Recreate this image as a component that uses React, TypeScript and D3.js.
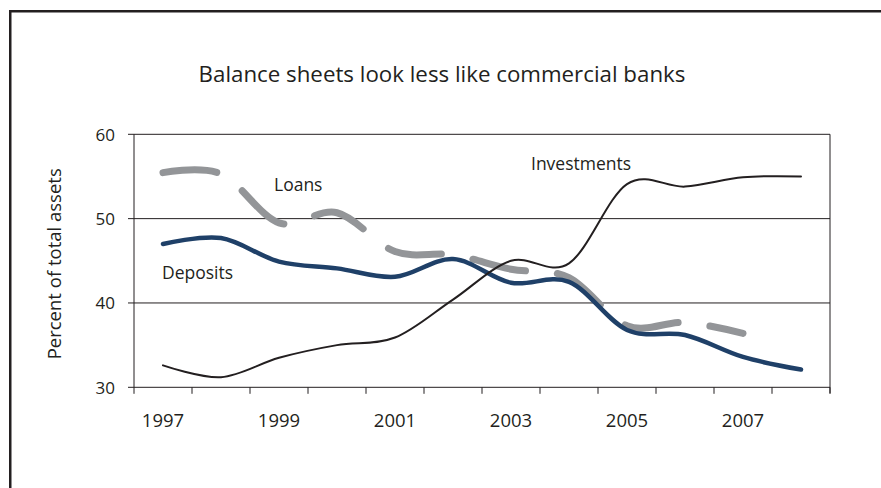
import React from "react";
import * as d3 from "d3";

const years = [1997, 1998, 1999, 2000, 2001, 2002, 2003, 2004, 2005, 2006, 2007, 2008];
const tickLabelYears = [1997, 1999, 2001, 2003, 2005, 2007];
const yTicks = [30, 40, 50, 60];
const investments = [32.6, 31.2, 33.5, 35.0, 35.9, 40.4, 45.0, 44.7, 54.1, 53.8, 54.9, 55.0];
const deposits = [47.0, 47.7, 44.9, 44.1, 43.1, 45.2, 42.4, 42.5, 36.8, 36.2, 33.6, 32.1];
const loans = [55.45, 55.3, 49.5, 50.7, 46.1, 45.7, 44.0, 43.0, 37.3, 37.7, 36.4];

const W = 881;
const H = 488;
const left = 134;
const right = 830;
const top = 134.3;
const bottom = 387.3;
const ink = "#231f20";
const font = "'Open Sans', sans-serif";

export default function App() {
  const x = d3.scaleBand<number>().domain(years).range([left, right]).padding(0);
  const y = d3.scaleLinear().domain([30, 60]).range([bottom, top]);
  const cx = (yr: number) => (x(yr) as number) + x.bandwidth() / 2;
  const line = d3
    .line<[number, number]>()
    .x((d) => cx(d[0]))
    .y((d) => y(d[1]))
    .curve(d3.curveCardinal.tension(0));
  const mk = (vals: number[]) => vals.map((v, i) => [years[i], v] as [number, number]);

  const bounds = [...years.map((yr) => x(yr) as number), right];

  return (
    <svg
      width={W}
      height={H}
      style={{ position: "absolute", left: 0, top: 0, background: "#fff" }}
    >
      <rect x={10.25} y={11.25} width={1000} height={1000} fill="none" stroke={ink} strokeWidth={2.5} />
      <text x={442} y={82} textAnchor="middle" fontFamily={font} fontSize={22.3} fill={ink}>
        Balance sheets look less like commercial banks
      </text>
      {yTicks.map((t) => (
        <g key={t}>
          <line x1={left - 6} x2={right} y1={y(t)} y2={y(t)} stroke={ink} strokeWidth={1} />
          <text x={115} y={y(t) + 6.5} textAnchor="end" fontFamily={font} fontSize={17} fill={ink}>
            {t}
          </text>
        </g>
      ))}
      <line x1={left} x2={left} y1={top} y2={bottom} stroke={ink} strokeWidth={1} />
      <line x1={right} x2={right} y1={top} y2={bottom + 6} stroke={ink} strokeWidth={1} />
      {bounds.map((b, i) => (
        <line key={i} x1={b} x2={b} y1={bottom} y2={bottom + 6.5} stroke={ink} strokeWidth={1} />
      ))}
      {tickLabelYears.map((yr) => (
        <text key={yr} x={cx(yr)} y={427} textAnchor="middle" fontFamily={font} fontSize={18.5} fill={ink}>
          {yr}
        </text>
      ))}
      <text
        transform={`translate(61,${(top + bottom) / 2 + 3}) rotate(-90)`}
        textAnchor="middle"
        fontFamily={font}
        fontSize={18.5}
        fill={ink}
      >
        Percent of total assets
      </text>
      <path
        d={line(mk(loans)) || ""}
        fill="none"
        stroke="#939598"
        strokeWidth={7}
        strokeLinecap="round"
        strokeDasharray="54 32"
      />
      <path d={line(mk(deposits)) || ""} fill="none" stroke="#1f4068" strokeWidth={4.5} strokeLinecap="round" />
      <path d={line(mk(investments)) || ""} fill="none" stroke={ink} strokeWidth={2} strokeLinecap="round" />
      <text x={274} y={191} fontFamily={font} fontSize={17.5} fill={ink}>Loans</text>
      <text x={162} y={279} fontFamily={font} fontSize={17.5} fill={ink}>Deposits</text>
      <text x={531} y={170} fontFamily={font} fontSize={17.5} fill={ink}>Investments</text>
    </svg>
  );
}
